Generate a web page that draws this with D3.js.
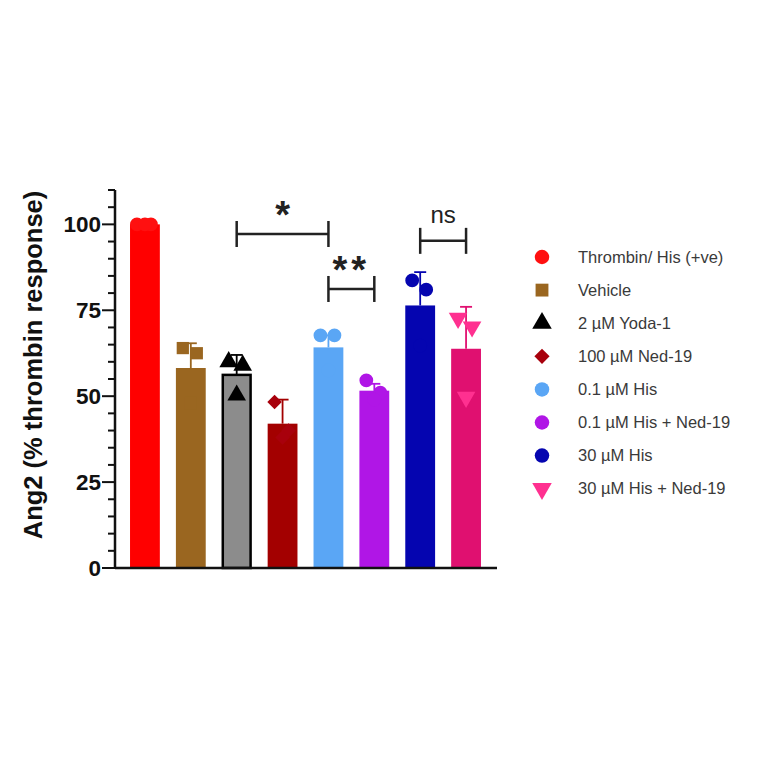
<!DOCTYPE html>
<html><head><meta charset="utf-8">
<script src="https://cdn.jsdelivr.net/npm/d3@7"></script>
<style>body{margin:0;background:#fff}svg{display:block}</style>
</head><body>
<svg id="c" width="764" height="764"></svg>
<script>
// ---- data ----
const categories = ["Thrombin/ His (+ve)","Vehicle","2 \u00b5M Yoda-1","100 \u00b5M Ned-19","0.1 \u00b5M His","0.1 \u00b5M His + Ned-19","30 \u00b5M His","30 \u00b5M His + Ned-19"];
const means = [100, 58.2, 56.2, 42, 64.2, 51.6, 76.4, 63.8];
const errs = [0, 7.2, 5.8, 7, 3.5, 2, 9.7, 12.2];
const points = [
  [100, 100, 100],
  [64, 62.5, 48],
  [60, 59, 50.3],
  [48.3, 40, 38],
  [67.7, 67.7, 57.5],
  [54.6, 51, 49],
  [83.7, 81, 64.7],
  [72.7, 70.2, 49.7]
];
const barColors = ["#ff0000","#9a6620","#8c8c8c","#a30000","#5aa6f5","#b016e6","#0505b0","#e01070"];
const pointColors = ["#ff1010","#9a6620","#000000","#a8000c","#5aa6f5","#b016e6","#0505b0","#ff3090"];
const shapes = ["circle","square","triangle","diamond","circle","circle","circle","triangleDown"];
const yTicks = [0, 25, 50, 75, 100];
const yLabel = "Ang2 (% thrombin response)";
const brackets = [
  {a: 2, b: 4, y: 97.2, label: "*"},
  {a: 4, b: 5, y: 81.2, label: "**"},
  {a: 6, b: 7, y: 95.2, label: "ns"}
];

// ---- drawing ----
const svg = d3.select("#c");
const x = d3.scaleBand().domain(categories).range([122, 489]).paddingInner(0.35).paddingOuter(0.175);
const y = d3.scaleLinear().domain([0, 110]).range([568, 190]);
const bw = x.bandwidth();
const jitter = [-8, 6, 0];

const symType = {circle: d3.symbolCircle, square: d3.symbolSquare, triangle: d3.symbolTriangle, diamond: d3.symbolSquare, triangleDown: d3.symbolTriangle};
const symSize = {circle: 150, square: 150, triangle: 150, diamond: 105, triangleDown: 150};
function sym(s, sc) { return d3.symbol().type(symType[s]).size(symSize[s] * (sc || 1))(); }
function rot(s) { return s === "triangleDown" ? " rotate(180)" : (s === "diamond" ? " rotate(45)" : ""); }

// bars
svg.append("g").selectAll("rect").data(categories).join("rect")
  .attr("x", (d, i) => x(d) + (i === 2 ? 1 : 0))
  .attr("y", (d, i) => y(means[i]))
  .attr("width", (d, i) => bw - (i === 2 ? 2 : 0))
  .attr("height", (d, i) => y(0) - y(means[i]))
  .attr("fill", (d, i) => barColors[i])
  .attr("stroke", (d, i) => i === 2 ? "#000" : "none")
  .attr("stroke-width", 2.5);

// error bars
const eg = svg.append("g");
categories.forEach((c, i) => {
  if (!errs[i]) return;
  const cx = x(c) + bw / 2;
  const col = i === 2 ? "#000" : barColors[i];
  eg.append("line").attr("x1", cx).attr("x2", cx).attr("y1", y(means[i])).attr("y2", y(means[i] + errs[i])).attr("stroke", col).attr("stroke-width", 1.8);
  eg.append("line").attr("x1", cx - 6).attr("x2", cx + 6).attr("y1", y(means[i] + errs[i])).attr("y2", y(means[i] + errs[i])).attr("stroke", col).attr("stroke-width", 1.8);
});

// points
const pg = svg.append("g");
categories.forEach((c, i) => {
  const cx = x(c) + bw / 2;
  points[i].forEach((v, j) => {
    pg.append("path").attr("d", sym(shapes[i]))
      .attr("transform", `translate(${cx + jitter[j]},${y(v)})` + rot(shapes[i]))
      .attr("fill", pointColors[i]);
  });
});

// axes
const axisG = svg.append("g").attr("stroke", "#111");
axisG.append("line").attr("x1", 115).attr("x2", 497).attr("y1", y(0)).attr("y2", y(0)).attr("stroke-width", 2.5);
axisG.append("line").attr("x1", 115).attr("x2", 115).attr("y1", y(0) + 1).attr("y2", y(110)).attr("stroke-width", 2.5);
const minor = d3.range(0, 111, 5);
axisG.selectAll(".mt").data(minor).join("line")
  .attr("x1", d => yTicks.includes(d) ? 102 : 108).attr("x2", 115)
  .attr("y1", d => y(d)).attr("y2", d => y(d)).attr("stroke-width", 2);
svg.append("g").selectAll("text").data(yTicks).join("text")
  .attr("x", 101).attr("y", d => y(d)).attr("dy", "0.36em")
  .attr("text-anchor", "end")
  .attr("font-family", "Liberation Sans, Arial, sans-serif").attr("font-weight", "bold").attr("font-size", 22.5)
  .attr("fill", "#111").text(d => d);

svg.append("text").attr("transform", "translate(42,365) rotate(-90)")
  .attr("text-anchor", "middle")
  .attr("font-family", "Liberation Sans, Arial, sans-serif").attr("font-weight", "bold").attr("font-size", 25.5)
  .attr("fill", "#111").text(yLabel);

// significance brackets
const bg = svg.append("g").attr("stroke", "#222").attr("stroke-width", 2.5);
brackets.forEach(b => {
  const x1 = x(categories[b.a]) + bw / 2, x2 = x(categories[b.b]) + bw / 2, yy = y(b.y);
  bg.append("line").attr("x1", x1).attr("x2", x2).attr("y1", yy).attr("y2", yy);
  bg.append("line").attr("x1", x1).attr("x2", x1).attr("y1", yy - 13).attr("y2", yy + 13);
  bg.append("line").attr("x1", x2).attr("x2", x2).attr("y1", yy - 13).attr("y2", yy + 13);
  const t = svg.append("text").attr("x", (x1 + x2) / 2).attr("text-anchor", "middle")
    .attr("font-family", "Liberation Sans, Arial, sans-serif").attr("fill", "#222").text(b.label);
  if (b.label === "ns") {
    t.attr("y", yy - 18).attr("font-size", 24);
  } else {
    t.attr("y", yy - 6).attr("font-size", 38).attr("font-weight", "bold").attr("letter-spacing", b.label.length > 1 ? 4 : 0);
  }
});

// legend
const lg = svg.append("g");
categories.forEach((c, i) => {
  const ly = 257 + i * 33.1;
  lg.append("path").attr("d", sym(shapes[i], 1.1))
    .attr("transform", `translate(542,${ly})` + rot(shapes[i]))
    .attr("fill", pointColors[i]);
  lg.append("text").attr("x", 578).attr("y", ly).attr("dy", "0.35em")
    .attr("font-family", "Liberation Sans, Arial, sans-serif").attr("font-size", 16.5)
    .attr("fill", "#3a3a3a").text(c);
});
</script>
</body></html>
